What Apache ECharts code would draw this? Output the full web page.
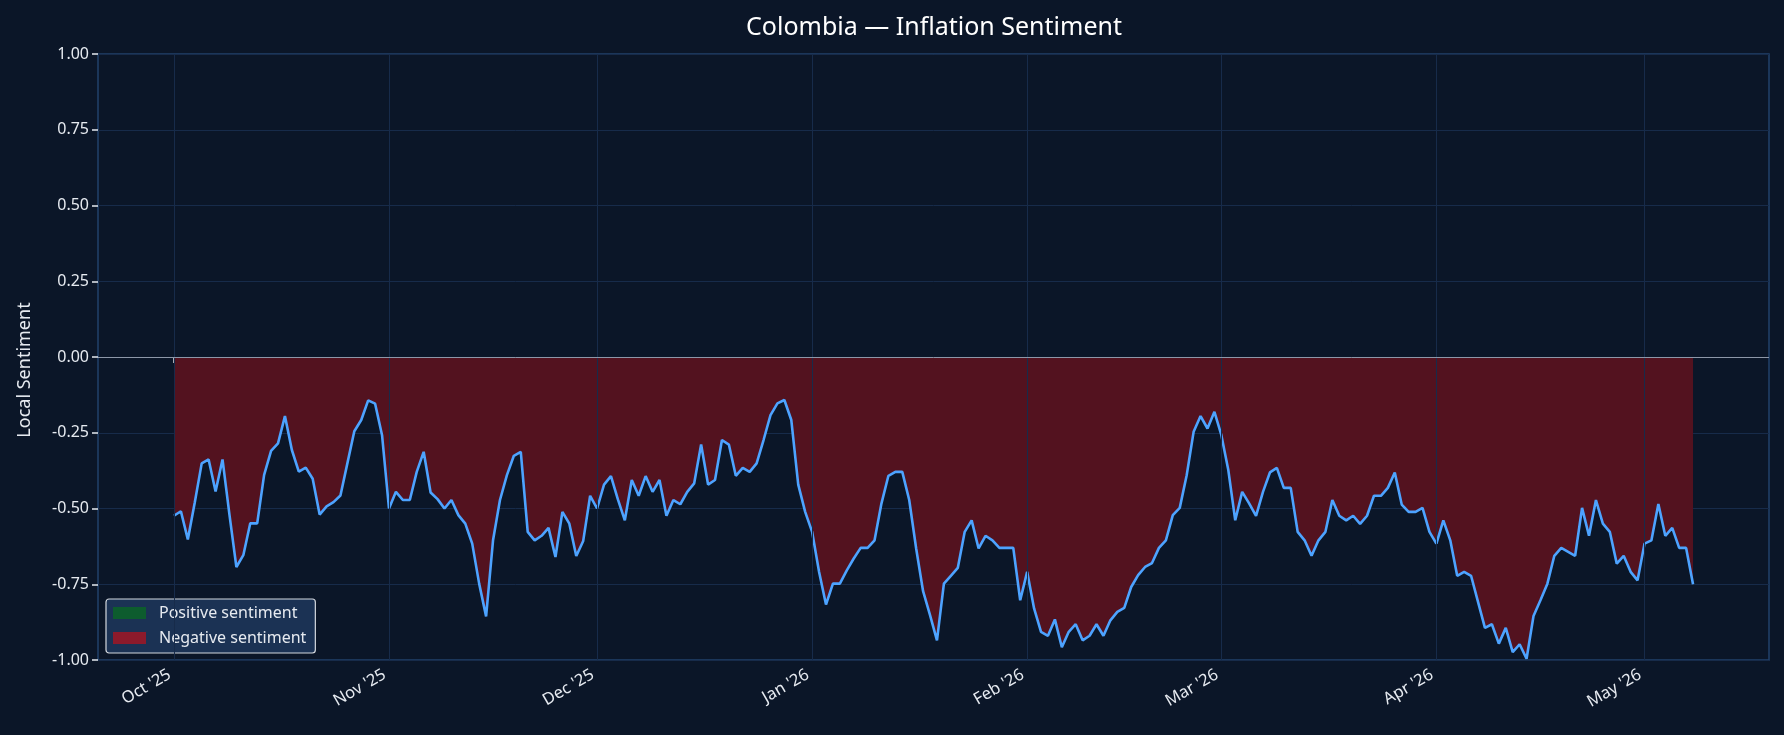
<!DOCTYPE html>
<html>
<head>
<meta charset="utf-8">
<title>Colombia — Inflation Sentiment</title>
<script src="https://cdn.jsdelivr.net/npm/echarts@6/dist/echarts.min.js"></script>
<style>
  html, body { margin: 0; padding: 0; background: #0b1628; }
  #main { width: 1784px; height: 735px; }
</style>
</head>
<body>
<div id="main"></div>
<script>
// daily readings, 1 Oct 2025 .. 8 May 2026
var startDay = Date.UTC(2025, 9, 1);
var octVals = [-0.524, -0.509, -0.602, -0.48, -0.351, -0.338, -0.444, -0.338, -0.52, -0.693,
  -0.654, -0.549, -0.549, -0.389, -0.31, -0.285, -0.195, -0.307, -0.378, -0.365,
  -0.402, -0.52, -0.493, -0.479, -0.457, -0.351, -0.245, -0.208, -0.143, -0.154, -0.258];
var novVals = [-0.50, -0.445, -0.472, -0.472, -0.379, -0.313, -0.447, -0.469, -0.50, -0.472,
  -0.522, -0.55, -0.616, -0.748, -0.856, -0.605, -0.472, -0.39, -0.326, -0.313,
  -0.577, -0.605, -0.59, -0.564, -0.66, -0.511, -0.55, -0.657, -0.607, -0.458];
var decVals = [-0.50, -0.421, -0.393, -0.47, -0.539, -0.406, -0.458, -0.393, -0.445, -0.406,
  -0.524, -0.472, -0.486, -0.445, -0.417, -0.289, -0.421, -0.406, -0.274, -0.289,
  -0.392, -0.366, -0.379, -0.351, -0.274, -0.192, -0.153, -0.142, -0.208, -0.421, -0.511];
var janVals = [-0.577, -0.709, -0.817, -0.748, -0.748, -0.704, -0.665, -0.63, -0.63, -0.605,
  -0.483, -0.392, -0.379, -0.379, -0.472, -0.632, -0.773, -0.852, -0.935, -0.748,
  -0.722, -0.696, -0.577, -0.539, -0.632, -0.59, -0.605, -0.63, -0.63, -0.63, -0.803];
var febVals = [-0.709, -0.83, -0.907, -0.92, -0.866, -0.958, -0.907, -0.882, -0.935, -0.92,
  -0.882, -0.92, -0.869, -0.841, -0.828, -0.759, -0.72, -0.693, -0.68, -0.63,
  -0.605, -0.522, -0.498, -0.39, -0.247, -0.195, -0.236, -0.181];
var marVals = [-0.258, -0.373, -0.539, -0.445, -0.483, -0.524, -0.445, -0.381, -0.366, -0.432,
  -0.432, -0.577, -0.605, -0.656, -0.605, -0.577, -0.472, -0.524, -0.539, -0.524,
  -0.551, -0.524, -0.458, -0.458, -0.432, -0.381, -0.487, -0.511, -0.511, -0.498, -0.577];
var aprVals = [-0.616, -0.539, -0.605, -0.722, -0.709, -0.722, -0.808, -0.894, -0.882, -0.946,
  -0.894, -0.974, -0.948, -0.996, -0.855, -0.803, -0.748, -0.656, -0.63, -0.643,
  -0.656, -0.498, -0.59, -0.472, -0.55, -0.577, -0.682, -0.656, -0.709, -0.737];
var mayVals = [-0.616, -0.605, -0.485, -0.59, -0.564, -0.63, -0.63, -0.75];

var yTicks = [-1, -0.75, -0.5, -0.25, 0, 0.25, 0.5, 0.75, 1];
var monthTicks = [Date.UTC(2025, 9, 1), Date.UTC(2025, 10, 1), Date.UTC(2025, 11, 1), Date.UTC(2026, 0, 1),
  Date.UTC(2026, 1, 1), Date.UTC(2026, 2, 1), Date.UTC(2026, 3, 1), Date.UTC(2026, 4, 1)];
var monthNames = ['Jan', 'Feb', 'Mar', 'Apr', 'May', 'Jun', 'Jul', 'Aug', 'Sep', 'Oct', 'Nov', 'Dec'];

var values = [].concat(octVals, novVals, decVals, janVals, febVals, marVals, aprVals, mayVals);
var DAY = 86400000;
var points = values.map(function (v, i) { return [startDay + i * DAY, v]; });

// matplotlib style 5% padding on the date axis
var first = points[0][0], last = points[points.length - 1][0];
var pad = (last - first) * 0.05;

var textCol = '#e6eaf0';
var gridCol = '#172b4a';
var font = 'Noto Sans';

var myChart = echarts.init(document.getElementById('main'));

var option = {
  backgroundColor: '#0b1628',
  animation: false,
  textStyle: { fontFamily: font },
  title: {
    text: 'Colombia — Inflation Sentiment',
    left: 741,
    top: 10,
    textStyle: { color: '#ffffff', fontSize: 25, fontWeight: 'normal', fontFamily: font }
  },
  grid: {
    left: 98, right: 15, top: 54, bottom: 75,
    show: true,
    backgroundColor: '#0b1628',
    borderColor: '#22416b',
    borderWidth: 1.5
  },
  legend: {
    data: ['Positive sentiment', 'Negative sentiment'],
    orient: 'vertical',
    left: 106,
    top: 599,
    icon: 'rect',
    itemWidth: 33,
    itemHeight: 12,
    itemGap: 9,
    padding: [6, 9, 7, 7],
    backgroundColor: '#1b3254',
    borderColor: '#d4d8de',
    borderWidth: 1.2,
    borderRadius: 3,
    selectedMode: false,
    textStyle: { color: textCol, fontSize: 16, fontFamily: font, padding: [0, 0, 0, 8] }
  },
  xAxis: {
    type: 'value',
    min: first - pad,
    max: last + pad,
    axisLine: { show: false },
    axisTick: {
      show: true, length: 6, inside: false,
      customValues: monthTicks,
      lineStyle: { color: '#e6eaf0', width: 1.5 }
    },
    axisLabel: {
      customValues: monthTicks,
      rotate: 30,
      margin: 11,
      padding: [0, 5, 0, 0],
      color: textCol,
      fontSize: 16.5,
      fontFamily: font,
      formatter: function (val) {
        var d = new Date(val);
        return monthNames[d.getUTCMonth()] + " '" + String(d.getUTCFullYear()).slice(2);
      }
    },
    splitLine: { show: false }
  },
  yAxis: {
    type: 'value',
    min: yTicks[0],
    max: yTicks[yTicks.length - 1],
    interval: 0.25,
    name: 'Local Sentiment',
    nameLocation: 'middle',
    nameGap: 64,
    nameTextStyle: { color: textCol, fontSize: 18, fontFamily: font, padding: [0, 26, 0, 0] },
    axisLine: { show: false },
    axisTick: { show: true, length: 6, lineStyle: { color: '#e6eaf0', width: 1.5 } },
    axisLabel: {
      color: textCol, fontSize: 16, fontFamily: font, margin: 9,
      formatter: function (v) { return v.toFixed(2); }
    },
    splitLine: { show: true, lineStyle: { color: gridCol, width: 1 } }
  },
  series: [
    {
      name: 'Positive sentiment',
      type: 'line',
      data: [],
      showSymbol: false,
      itemStyle: { color: '#0d5c2e' },
      lineStyle: { width: 0 }
    },
    {
      name: 'Negative sentiment',
      type: 'line',
      data: points,
      showSymbol: false,
      silent: true,
      itemStyle: { color: '#8c1a2b' },
      lineStyle: { width: 0 },
      areaStyle: { color: '#53121f', opacity: 1, origin: 0 },
      // vertical month grid lines
      markLine: {
        silent: true,
        symbol: 'none',
        label: { show: false },
        lineStyle: { color: gridCol, width: 1, type: 'solid' },
        data: monthTicks.map(function (t) { return { xAxis: t }; })
      },
      z: 2
    },
    {
      name: 'Sentiment',
      type: 'line',
      data: points,
      showSymbol: false,
      silent: true,
      itemStyle: { color: '#4da3ff' },
      lineStyle: { color: '#4da3ff', width: 2.6 },
      markLine: {
        silent: true,
        symbol: 'none',
        label: { show: false },
        lineStyle: { color: '#8d97a8', width: 1, type: 'solid' },
        data: [{ yAxis: 0 }]
      },
      z: 3
    }
  ]
};

myChart.setOption(option);
</script>
</body>
</html>
